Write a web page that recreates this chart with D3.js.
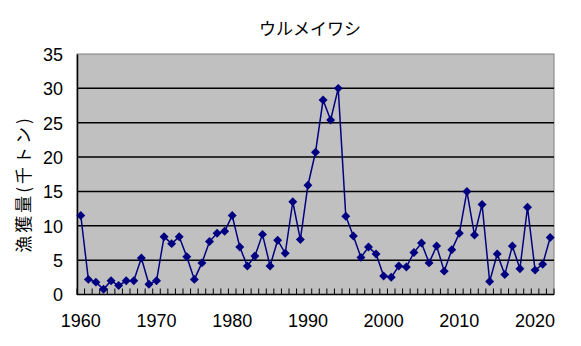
<!DOCTYPE html>
<html>
<head>
<meta charset="utf-8">
<script src="https://cdn.jsdelivr.net/npm/d3@7"></script>
<style>
  body { margin: 0; background: #fff; }
  text { font-family: "Liberation Sans", Arial, sans-serif; fill: #000; }
  .jp { font-family: "Noto Sans CJK JP", sans-serif; }
</style>
</head>
<body>
<div id="chart"></div>
<script>
// catch of urume iwashi (thousand tonnes), 1960-2022
var years = d3.range(1960, 2023);
var catchValues = [
  11.5, 2.2, 1.8, 0.75, 2.0, 1.3, 2.0, 2.0, 5.3, 1.5,
  2.0, 8.4, 7.4, 8.4, 5.5, 2.2, 4.6, 7.7, 8.9, 9.2,
  11.5, 6.9, 4.15, 5.6, 8.75, 4.15, 7.9, 6.0, 13.5, 8.0,
  15.9, 20.7, 28.3, 25.4, 30.0, 11.4, 8.5, 5.4, 6.9, 5.9,
  2.7, 2.5, 4.15, 4.0, 6.1, 7.5, 4.6, 7.05, 3.4, 6.5,
  8.9, 15.0, 8.65, 13.1, 1.9, 5.9, 2.9, 7.05, 3.75, 12.7,
  3.55, 4.4, 8.3
];
var yTicks = [0, 5, 10, 15, 20, 25, 30, 35];
var xLabels = [1960, 1970, 1980, 1990, 2000, 2010, 2020];
var title = "ウルメイワシ";
var yTitle = "漁獲量(千トン)";

var width = 581,
  height = 346,
  margin = {top: 54, right: 27, bottom: 51.5, left: 77};

var svg = d3.select("#chart").append("svg")
  .attr("width", width)
  .attr("height", height);

var plotW = width - margin.left - margin.right,
  plotH = height - margin.top - margin.bottom;

var x = d3.scaleBand()
  .domain(years)
  .range([margin.left, margin.left + plotW]);

var y = d3.scaleLinear()
  .domain([0, 35])
  .range([margin.top + plotH, margin.top]);

var cx = function(d) { return x(d) + x.bandwidth() / 2; };

//Plot background
svg.append("rect")
  .attr("x", margin.left)
  .attr("y", margin.top)
  .attr("width", plotW)
  .attr("height", plotH)
  .attr("fill", "#c0c0c0")
  .attr("stroke", "#808080")
  .attr("stroke-width", 1);

//Gridlines
svg.append("g")
  .selectAll("line")
  .data(yTicks.filter(function(d) { return d > 0 && d < 35; }))
  .enter().append("line")
  .attr("x1", margin.left)
  .attr("x2", margin.left + plotW)
  .attr("y1", function(d) { return y(d); })
  .attr("y2", function(d) { return y(d); })
  .attr("stroke", "#000")
  .attr("stroke-width", 1.5);

//Y axis
var yAxis = svg.append("g")
  .attr("transform", "translate(" + margin.left + ",0)")
  .call(d3.axisLeft(y).tickValues(yTicks).tickSize(0).tickPadding(14));
yAxis.select(".domain").attr("stroke", "#000").attr("stroke-width", 1.5);
yAxis.selectAll("text").style("font-size", "18px").attr("dy", "0.35em");

//X axis: ticks between categories, pointing into the plot
var boundaries = years.map(function(d) { return x(d); }).concat([margin.left + plotW]);
var baseY = margin.top + plotH;
svg.append("g")
  .selectAll("line")
  .data(boundaries)
  .enter().append("line")
  .attr("x1", function(d) { return d; })
  .attr("x2", function(d) { return d; })
  .attr("y1", baseY)
  .attr("y2", baseY - 6)
  .attr("stroke", "#000")
  .attr("stroke-width", 1);
svg.append("line")
  .attr("x1", margin.left)
  .attr("x2", margin.left + plotW)
  .attr("y1", baseY)
  .attr("y2", baseY)
  .attr("stroke", "#000")
  .attr("stroke-width", 1.5);

svg.append("g")
  .selectAll("text")
  .data(xLabels)
  .enter().append("text")
  .attr("x", function(d) { return cx(d); })
  .attr("y", baseY + 32)
  .attr("text-anchor", "middle")
  .style("font-size", "18px")
  .text(function(d) { return d; });

//Series line
var line = d3.line()
  .x(function(d, i) { return cx(years[i]); })
  .y(function(d) { return y(d); });

svg.append("path")
  .datum(catchValues)
  .attr("fill", "none")
  .attr("stroke", "#000080")
  .attr("stroke-width", 1.5)
  .attr("d", line);

//Diamond markers
svg.append("g")
  .selectAll("path")
  .data(catchValues)
  .enter().append("path")
  .attr("d", d3.symbol().type(d3.symbolSquare).size(40))
  .attr("transform", function(d, i) {
    return "translate(" + cx(years[i]) + "," + y(d) + ") rotate(45)";
  })
  .attr("fill", "#000080");

//Titles
svg.append("text")
  .attr("class", "jp")
  .attr("x", 310)
  .attr("y", 35)
  .attr("text-anchor", "middle")
  .style("font-size", "17px")
  .text(title);

svg.append("text")
  .attr("class", "jp")
  .attr("transform", "translate(30,184) rotate(-90)")
  .attr("text-anchor", "middle")
  .style("font-size", "17px")
  .style("letter-spacing", "3px")
  .text(yTitle);
</script>
</body>
</html>
